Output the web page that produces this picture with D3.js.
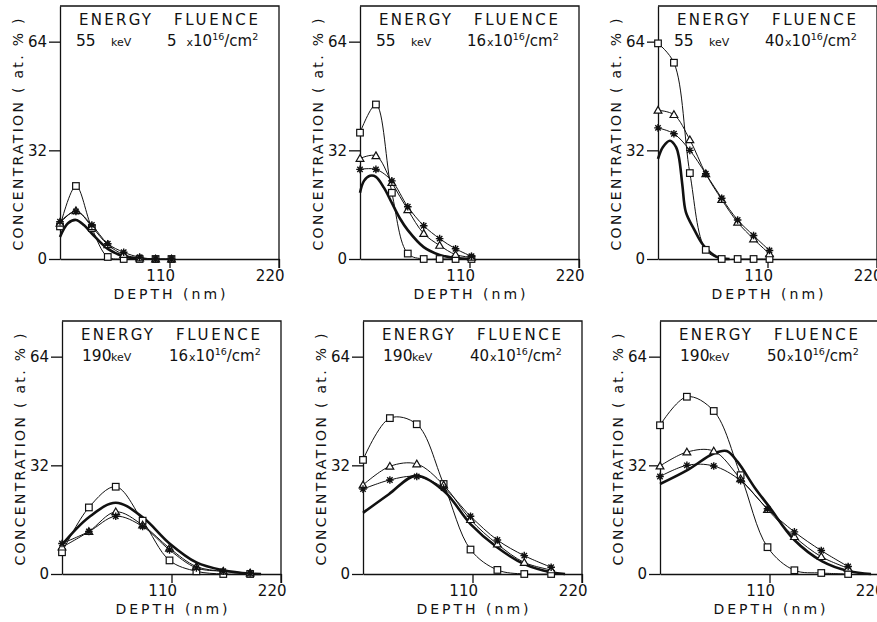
<!DOCTYPE html>
<html>
<head>
<meta charset="utf-8">
<script src="https://cdn.jsdelivr.net/npm/d3@7"></script>
<style>
  body { margin: 0; background: #fff; }
  svg text { font-family: "DejaVu Sans", sans-serif; fill: #111; }
</style>
</head>
<body>
<svg id="chart" width="877" height="622"></svg>
<script>
// depths (nm) of the measured points
const depth55 = [0, 16, 32, 48, 64, 80, 96, 112];
const depth190 = [0, 27, 54, 81, 108, 135, 162, 189];

const energies = ["55", "55", "55", "190", "190", "190"];
const fluences = ["5", "16", "40", "16", "40", "50"];
const yTicks = [0, 32, 64];
const xTicks = [110, 220];

// 55 keV, 5e16
const sq1 = [9.6, 21.5, 9.1, 0.6, 0, 0, 0, 0];
const tri1 = [10.5, 14.2, 9.5, 4.2, 1.3, 0.3, 0, 0];
const star1 = [11, 14, 10, 4.5, 2, 0.5, 0, 0];
const thick1 = [[0, 6.5], [8, 10.5], [16, 11.5], [24, 10], [32, 7.5], [48, 3], [64, 0.8], [80, 0]];

// 55 keV, 16e16
const sq2 = [37.2, 45.5, 19.5, 1.6, 0, 0, 0, 0];
const tri2 = [29.6, 30.4, 22.5, 14.5, 7.5, 4, 1.3, 0.5];
const star2 = [26.4, 26.4, 23, 15.4, 9.8, 6, 3, 0.8];
const thick2 = [[0, 19.5], [4, 23], [10, 24.5], [16, 24.2], [24, 21], [32, 16.5], [40, 12], [48, 8.5], [64, 3.5], [80, 1.2], [96, 0.3], [112, 0]];

// 55 keV, 40e16
const sq3 = [63.5, 57.8, 25.3, 2.7, 0, 0, 0, 0];
const tri3 = [43.8, 42.5, 35.1, 25.1, 17.5, 10.8, 5.9, 1.5];
const star3 = [38.6, 36.9, 32, 25.1, 17.9, 11.5, 6.9, 2.5];
const thick3 = [[0, 29.5], [5, 33], [12, 34.8], [18, 33], [21, 30], [24.5, 21.7], [28, 13.8], [36, 8.9], [46, 3.9], [60, 0.5], [72, 0]];

// 190 keV, 16e16
const sq4 = [6.4, 19.6, 25.7, 15.7, 4, 0.8, 0, 0];
const tri4 = [7.9, 12.5, 18.3, 14.4, 7.6, 2.2, 0.8, 0.3];
const star4 = [9, 12.5, 17, 14, 7.1, 1.8, 0.8, 0.3];
const thick4 = [[0, 8.6], [27, 16.7], [54, 21], [81, 16.7], [108, 9], [135, 3.4], [162, 1.1], [189, 0.1], [200, 0]];

// 190 keV, 40e16
const sq5 = [33.6, 45.9, 44.1, 26.5, 7.2, 1.2, 0, 0];
const tri5 = [26.2, 31.7, 32.4, 26.2, 16, 8.8, 3.4, 1.2];
const star5 = [25, 27.7, 28.7, 25.3, 17, 10, 5.4, 2];
const thick5 = [[0, 18], [26, 23.5], [53, 28.9], [81, 24.5], [108, 14.7], [135, 7.8], [162, 2.9], [189, 0.5], [203, 0]];

// 190 keV, 50e16
const sq6 = [43.8, 52.2, 48, 29.1, 7.9, 1.1, 0.3, 0];
const tri6 = [31.8, 35.9, 36.2, 28, 19, 11, 5.1, 1.7];
const star6 = [28.7, 32, 31.8, 27.5, 19.2, 12.4, 6.9, 2.2];
const thick6 = [[0, 26.5], [27, 30.5], [54, 35.5], [67, 36.2], [78, 33], [95, 25.5], [110, 19.7], [135, 10], [163, 3.7], [190, 0.8], [212, 0]];

const panels = [
  { depth: depth55, sq: sq1, tri: tri1, star: star1, thick: thick1 },
  { depth: depth55, sq: sq2, tri: tri2, star: star2, thick: thick2 },
  { depth: depth55, sq: sq3, tri: tri3, star: star3, thick: thick3 },
  { depth: depth190, sq: sq4, tri: tri4, star: star4, thick: thick4 },
  { depth: depth190, sq: sq5, tri: tri5, star: star5, thick: thick5 },
  { depth: depth190, sq: sq6, tri: tri6, star: star6, thick: thick6 }
];

// where each panel's frame sits on the page
const origins = [[60, 6], [360, 6], [658, 6], [62, 321], [363, 321], [660, 321]];
const W = 219, H = 253;

const svg = d3.select("#chart");

panels.forEach((p, i) => {
  const [ox, oy] = origins[i];
  const g = svg.append("g").attr("transform", `translate(${ox},${oy})`);

  const x = d3.scaleLinear().domain([0, 220]).range([0, W]);
  const y = d3.scaleLinear().domain([0, 74.5]).range([H, 0]);

  // frame: top and right side (right one runs down as the 220 tick)
  g.append("path")
    .attr("d", `M0,0H${W}V${H + 9}`)
    .attr("fill", "none").attr("stroke", "#111").attr("stroke-width", 1.3);

  const xAxis = g.append("g").attr("transform", `translate(0,${H})`)
    .call(d3.axisBottom(x).tickValues(xTicks).tickSize(9).tickSizeOuter(0).tickPadding(2.5));
  xAxis.selectAll("text").attr("text-anchor", "end").attr("dx", 5).style("font-size", "15px");

  const yAxis = g.append("g")
    .call(d3.axisLeft(y).tickValues(yTicks).tickSize(11).tickSizeOuter(0).tickPadding(2));
  yAxis.selectAll("text").style("font-size", "15px");

  [xAxis, yAxis].forEach(a => {
    a.selectAll("path, line").attr("stroke", "#111").attr("stroke-width", 1.3);
    a.selectAll("text").attr("fill", "#111");
  });

  // axis titles
  g.append("text")
    .attr("x", x(110)).attr("y", H + 40)
    .attr("text-anchor", "middle")
    .attr("textLength", 112).attr("lengthAdjust", "spacing")
    .style("font-size", "14px")
    .text("DEPTH (nm)");

  g.append("text")
    .attr("transform", `translate(-37,${H / 2 + 2}) rotate(-90)`)
    .attr("text-anchor", "middle")
    .attr("textLength", 232).attr("lengthAdjust", "spacing")
    .style("font-size", "14px")
    .text("CONCENTRATION ( at. % )");

  // header
  g.append("text").attr("x", 19).attr("y", 19)
    .attr("textLength", 72).attr("lengthAdjust", "spacing")
    .style("font-size", "15px").text("ENERGY");
  g.append("text").attr("x", 114).attr("y", 19)
    .attr("textLength", 84).attr("lengthAdjust", "spacing")
    .style("font-size", "15px").text("FLUENCE");

  const e = g.append("text").attr("x", energies[i] === "55" ? 16 : 20).attr("y", 40).style("font-size", "15.5px");
  e.append("tspan").text(energies[i]);
  e.append("tspan").attr("x", energies[i] === "55" ? 51 : 49).style("font-size", "11px").text("keV");

  const f = g.append("text").attr("x", 107).attr("y", 40).style("font-size", "15px");
  f.append("tspan").text(fluences[i]);
  f.append("tspan").attr("dx", fluences[i].length === 1 ? 10 : 1).style("font-size", "11px").text("x");
  f.append("tspan").text("10");
  f.append("tspan").attr("dy", -6).style("font-size", "9.5px").text("16");
  f.append("tspan").attr("dy", 6).text("/cm");
  f.append("tspan").attr("dy", -6).style("font-size", "9.5px").text("2");

  // curves
  const thin = d3.line().x(d => x(d[0])).y(d => y(d[1])).curve(d3.curveCatmullRom.alpha(0.5));
  const pts = vals => vals.map((v, k) => [p.depth[k], v]);

  [p.sq, p.tri, p.star].forEach(vals => {
    g.append("path").attr("d", thin(pts(vals)))
      .attr("fill", "none").attr("stroke", "#111").attr("stroke-width", 1);
  });
  g.append("path").attr("d", thin(p.thick))
    .attr("fill", "none").attr("stroke", "#111").attr("stroke-width", 2.6)
    .attr("stroke-linejoin", "round");

  // markers
  g.selectAll(".sq").data(pts(p.sq)).enter().append("rect")
    .attr("x", d => x(d[0]) - 3.3).attr("y", d => y(d[1]) - 3.3)
    .attr("width", 6.6).attr("height", 6.6)
    .attr("fill", "#fff").attr("stroke", "#111").attr("stroke-width", 1.2);

  g.selectAll(".tri").data(pts(p.tri)).enter().append("path")
    .attr("d", d3.symbol(d3.symbolTriangle, 26))
    .attr("transform", d => `translate(${x(d[0])},${y(d[1]) + 0.6})`)
    .attr("fill", "#fff").attr("stroke", "#111").attr("stroke-width", 1.2);

  g.selectAll(".star").data(pts(p.star)).enter().append("path")
    .attr("d", "M-3.8,0H3.8M0,-3.8V3.8M-2.7,-2.7L2.7,2.7M-2.7,2.7L2.7,-2.7")
    .attr("transform", d => `translate(${x(d[0])},${y(d[1])})`)
    .attr("fill", "none").attr("stroke", "#111").attr("stroke-width", 1.4);
});
</script>
</body>
</html>
